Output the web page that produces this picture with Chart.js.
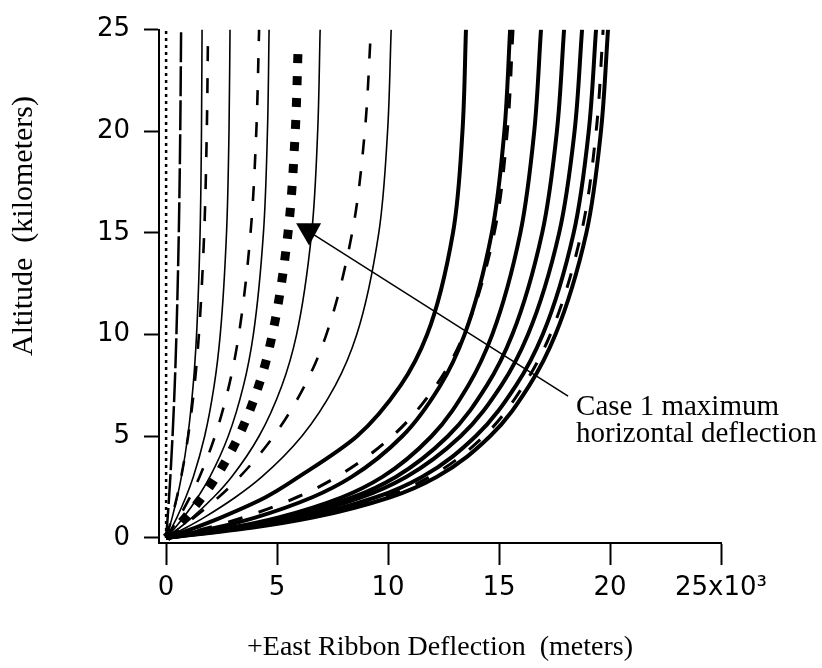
<!DOCTYPE html>
<html>
<head>
<meta charset="utf-8">
<script src="https://cdn.jsdelivr.net/npm/chart.js@4"></script>
<style>
  html, body { margin: 0; padding: 0; background: #fff; }
  #wrap { width: 822px; height: 668px; position: relative; }
</style>
</head>
<body>
<div id="wrap"><canvas id="chart"></canvas></div>
<script>
// altitude (km) at which each deflection value was read
const ALT = [0, 0.5, 1, 2, 3, 5, 7.5, 10, 15, 20, 25];
const ALT_SQUARE = [0, 0.5, 1, 2, 3, 5, 7.5, 10, 15, 20, 24.2];
const ALT_ZERO = [0, 25];

// east deflection (m) of each profile
const zeroLine = [0, 0];
const c1 = [0, 36, 70, 134, 191, 290, 389, 465, 572, 637, 676];
const c2 = [0, 142, 272, 499, 689, 977, 1218, 1372, 1531, 1594, 1620];
const c3 = [0, 134, 259, 484, 679, 992, 1280, 1478, 1716, 1833, 1890];
const c4 = [0, 253, 484, 887, 1224, 1737, 2166, 2439, 2722, 2834, 2880];
const c5 = [0, 297, 574, 1073, 1504, 2200, 2837, 3277, 3805, 4064, 4190];
const c6 = [0, 407, 780, 1429, 1972, 2798, 3489, 3930, 4385, 4566, 4640];
const case1 = [0, 451, 870, 1616, 2255, 3272, 4175, 4786, 5491, 5819, 5950];
const c8 = [0, 609, 1166, 2138, 2950, 4185, 5219, 5878, 6558, 6829, 6940];
const c9 = [0, 655, 1265, 2363, 3314, 4846, 6249, 7218, 8381, 8953, 9230];
const c10 = [0, 890, 1704, 3123, 4310, 6114, 7625, 8589, 9582, 9978, 10140];
const c11 = [0, 1295, 2466, 4484, 5975, 8598, 10567, 11760, 12924, 13352, 13510];
const c12 = [0, 2241, 4011, 6589, 8358, 10638, 12354, 13446, 14674, 15240, 15500];
const c13 = [0, 1896, 3464, 5893, 7690, 10186, 12162, 13418, 14783, 15372, 15630];
const c14 = [0, 2888, 5033, 7921, 9746, 11958, 13613, 14694, 15961, 16586, 16890];
const c15 = [0, 3066, 5343, 8409, 10346, 12694, 14452, 15599, 16944, 17607, 17930];
const c16 = [0, 3205, 5585, 8789, 10813, 13268, 15104, 16304, 17709, 18403, 18740];
const c17 = [0, 3525, 6102, 9453, 11525, 13946, 15767, 16968, 18363, 19041, 19370];
const c18 = [0, 3682, 6360, 9786, 11873, 14315, 16106, 17308, 18706, 19375, 19690];
const c19 = [0, 3843, 6590, 10094, 12185, 14594, 16366, 17541, 18934, 19591, 19910];

const X_TICKS = [0, 5000, 10000, 15000, 20000, 25000];
const Y_TICKS = [0, 5, 10, 15, 20, 25];

const styles = {
  dot:       { borderWidth: 2.5, borderDash: [3, 4] },
  long:      { borderWidth: 2.5, borderDash: [30, 4] },
  thin:      { borderWidth: 1.6, borderDash: [] },
  dash:      { borderWidth: 2.6, borderDash: [15, 17] },
  square:    { borderWidth: 9, borderDash: [9, 13] },
  thick:     { borderWidth: 4, borderDash: [] },
  thickdash: { borderWidth: 3, borderDash: [15, 17] }
};

const traces = [
  [zeroLine, ALT_ZERO, 'dot'],
  [c1, ALT, 'long'], [c2, ALT, 'thin'], [c3, ALT, 'dash'], [c4, ALT, 'thin'],
  [c5, ALT, 'dash'], [c6, ALT, 'thin'], [case1, ALT_SQUARE, 'square'],
  [c8, ALT, 'thin'], [c9, ALT, 'dash'], [c10, ALT, 'thin'],
  [c11, ALT, 'thick'], [c12, ALT, 'thick'], [c13, ALT, 'thickdash'],
  [c14, ALT, 'thick'], [c15, ALT, 'thick'], [c16, ALT, 'thick'],
  [c17, ALT, 'thick'], [c18, ALT, 'thickdash'], [c19, ALT, 'thick']
];

const datasets = traces.map(([xs, alts, st]) => Object.assign({
  data: xs.map((v, i) => ({ x: v, y: alts[i] })),
  borderColor: '#000',
  borderCapStyle: 'butt',
  pointRadius: 0,
  fill: false,
  cubicInterpolationMode: 'monotone'
}, styles[st]));

const tickFont = { family: '"DejaVu Sans"', size: 26 };

const annotations = {
  id: 'annotations',
  afterDatasetsDraw(chart) {
    const { ctx, scales: { x, y }, chartArea } = chart;
    const px = v => x.getPixelForValue(v), py = v => y.getPixelForValue(v);
    ctx.save();
    ctx.fillStyle = '#000';
    ctx.strokeStyle = '#000';
    // arrow to the case 1 curve
    ctx.lineWidth = 1.5;
    ctx.beginPath();
    ctx.moveTo(px(6667), py(14.9));
    ctx.lineTo(px(18110), py(6.97));
    ctx.stroke();
    ctx.beginPath();
    ctx.moveTo(px(5857), py(15.48));
    ctx.lineTo(px(6983), py(15.48));
    ctx.lineTo(px(6442), py(14.38));
    ctx.closePath();
    ctx.fill();

    ctx.font = '29px "Liberation Serif"';
    ctx.textAlign = 'left';
    ctx.textBaseline = 'alphabetic';
    ctx.fillText('Case 1 maximum', px(18470), py(6.06));
    ctx.fillText('horizontal deflection', px(18470), py(4.71));

    // axis titles
    ctx.textAlign = 'center';
    ctx.textBaseline = 'middle';
    ctx.font = '28px "Liberation Serif"';
    ctx.fillText('+East Ribbon Deflection  (meters)', (chartArea.left + chartArea.right) / 2, 648);
    ctx.font = '30px "Liberation Serif"';
    ctx.translate(24, 226);
    ctx.rotate(-Math.PI / 2);
    ctx.fillText('Altitude  (kilometers)', 0, 0);
    ctx.restore();
  }
};

new Chart(document.getElementById('chart').getContext('2d'), {
  type: 'line',
  data: { datasets: datasets },
  plugins: [annotations],
  options: {
    indexAxis: 'y',
    responsive: true,
    maintainAspectRatio: false,
    animation: false,
    layout: { padding: { top: 18, right: 101, left: 0, bottom: 0 } },
    plugins: { legend: { display: false }, tooltip: { enabled: false } },
    scales: {
      x: {
        type: 'linear',
        position: 'bottom',
        min: -320,
        max: 25000,
        afterBuildTicks: s => { s.ticks = X_TICKS.map(v => ({ value: v })); },
        afterFit: s => { s.height = 125; },
        ticks: {
          color: '#000', font: tickFont, padding: 8, maxRotation: 0, autoSkip: false,
          callback: v => v === 25000 ? '25x10\u00B3' : String(v / 1000)
        },
        grid: { drawOnChartArea: false, drawTicks: true, tickLength: 22, tickWidth: 2, tickColor: '#000' },
        border: { color: '#000', width: 2 }
      },
      y: {
        type: 'linear',
        position: 'left',
        min: -0.25,
        max: 25,
        afterBuildTicks: s => { s.ticks = Y_TICKS.map(v => ({ value: v })); },
        afterFit: s => { s.width = 159; },
        ticks: { color: '#000', font: tickFont, padding: 14, autoSkip: false },
        grid: { drawOnChartArea: false, drawTicks: true, tickLength: 15, tickWidth: 2, tickColor: '#000' },
        border: { color: '#000', width: 2 }
      }
    }
  }
});
</script>
</body>
</html>
